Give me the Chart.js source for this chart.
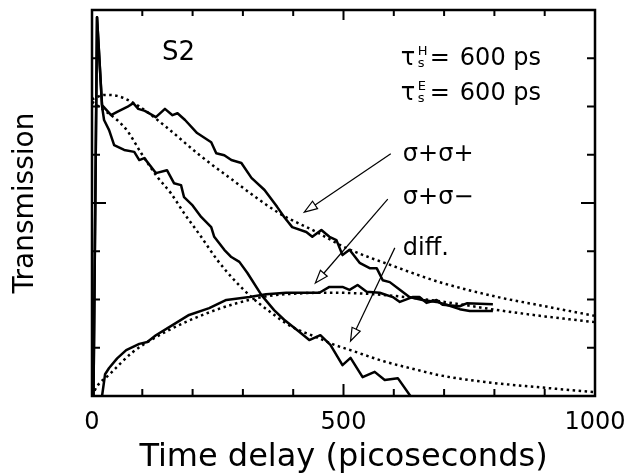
<!DOCTYPE html>
<html>
<head>
<meta charset="utf-8">
<title>S2 transmission</title>
<script src="https://cdn.jsdelivr.net/npm/chart.js@4/dist/chart.umd.min.js"></script>
<style>
  html, body { margin: 0; padding: 0; background: #fff; }
  canvas { display: block; }
</style>
</head>
<body>
<canvas id="chart" width="638" height="475"></canvas>
<script>
// measured curves (solid)
const ppTime = [3, 10, 20, 38, 50, 70, 82, 92, 105, 127, 145, 160, 170, 185, 209, 237, 247, 263, 277, 297, 317, 343, 368, 382, 398, 426, 438, 456, 472, 486, 498, 512, 532, 552, 566, 578, 592, 612, 631, 657, 685, 705, 731, 751, 797];
const ppValue = [0, 7.85, 6.03, 5.82, 5.89, 5.99, 6.07, 5.95, 5.91, 5.78, 5.95, 5.82, 5.86, 5.72, 5.45, 5.26, 5.03, 4.99, 4.89, 4.83, 4.52, 4.27, 3.92, 3.71, 3.50, 3.40, 3.30, 3.44, 3.30, 3.23, 2.92, 3.03, 2.76, 2.65, 2.65, 2.40, 2.36, 2.20, 2.05, 1.99, 1.95, 1.89, 1.80, 1.76, 1.76];

const pmTime = [3, 10, 20, 24, 34, 44, 64, 84, 94, 104, 127, 149, 163, 177, 183, 200, 217, 237, 243, 263, 277, 293, 309, 337, 362, 382, 412, 432, 454, 474, 498, 514, 538, 562, 582, 608, 633];
const pmValue = [0, 7.85, 6.0, 5.72, 5.51, 5.2, 5.1, 5.06, 4.89, 4.93, 4.62, 4.68, 4.41, 4.37, 4.12, 3.95, 3.71, 3.50, 3.30, 3.03, 2.88, 2.78, 2.55, 2.09, 1.78, 1.58, 1.33, 1.16, 1.26, 1.06, 0.64, 0.79, 0.39, 0.50, 0.33, 0.37, 0];

const diffTime = [20, 26, 34, 50, 68, 94, 110, 127, 160, 193, 233, 267, 313, 346, 386, 452, 472, 498, 512, 528, 546, 572, 598, 612, 637, 651, 665, 685, 697, 731, 745, 797];
const diffValue = [0, 0.45, 0.58, 0.78, 0.95, 1.08, 1.12, 1.26, 1.47, 1.68, 1.82, 1.99, 2.05, 2.11, 2.14, 2.14, 2.26, 2.26, 2.20, 2.30, 2.16, 2.14, 2.05, 1.95, 2.05, 2.05, 1.93, 1.99, 1.89, 1.86, 1.92, 1.90];

// fits (dotted)
const ppFitTime = [0, 25, 50, 94, 147, 213, 279, 372, 446, 505, 600, 691, 807, 890, 1000];
const ppFitValue = [6.15, 6.24, 6.22, 6.0, 5.58, 5.0, 4.48, 3.79, 3.40, 3.07, 2.69, 2.36, 2.05, 1.88, 1.66];

const pmFitTime = [0, 20, 50, 70, 98, 130, 157, 183, 217, 249, 283, 317, 357, 398, 446, 482, 514, 580, 647, 691, 781, 890, 1000];
const pmFitValue = [6.1, 5.95, 5.72, 5.5, 5.03, 4.54, 4.2, 3.79, 3.30, 2.82, 2.40, 2.05, 1.72, 1.43, 1.22, 1.06, 0.95, 0.72, 0.54, 0.43, 0.29, 0.18, 0.08];

const diffFitTime = [0, 10, 35, 80, 150, 225, 290, 350, 420, 480, 560, 640, 720, 800, 900, 1000];
const diffFitValue = [0, 0.2, 0.45, 0.9, 1.35, 1.7, 1.93, 2.07, 2.13, 2.14, 2.11, 2.03, 1.92, 1.79, 1.65, 1.53];

// axes
const xTickValues = [100, 200, 300, 400, 500, 600, 700, 800, 900];
const xLabelValues = [0, 500, 1000];
const yTickValues = [1, 2, 3, 4, 5, 6, 7];

const FONT = 'DejaVu Sans';

// text and arrows, in data units
const notes = [
  { text: 'S2', t: 139, v: 6.96, size: 26 },
  { text: 'σ+σ+', t: 618, v: 4.87, size: 24 },
  { text: 'σ+σ−', t: 618, v: 3.98, size: 24 },
  { text: 'diff.', t: 618, v: 2.92, size: 24 }
];
const tauLines = [
  { sup: 'H', t: 614, v: 6.86 },
  { sup: 'E', t: 614, v: 6.13 }
];
const arrows = [
  [594, 5.02, 422, 3.81],
  [588, 4.08, 444, 2.34],
  [602, 3.07, 514, 1.14]
];

const toPts = (ts, vs) => ts.map((t, i) => ({ x: t, y: vs[i] }));

function solid(ts, vs) {
  return { data: toPts(ts, vs), borderColor: '#000', borderWidth: 2.5, pointRadius: 0, tension: 0, borderJoinStyle: 'round' };
}
function dotted(ts, vs) {
  return { data: toPts(ts, vs), borderColor: '#000', borderWidth: 2.5, pointRadius: 0, cubicInterpolationMode: 'monotone', borderDash: [2.5, 3.5] };
}

function drawArrow(ctx, x1, y1, x2, y2) {
  const ang = Math.atan2(y2 - y1, x2 - x1);
  const len = 13, half = 4.5;
  const bx = x2 - len * Math.cos(ang), by = y2 - len * Math.sin(ang);
  ctx.beginPath();
  ctx.moveTo(x1, y1);
  ctx.lineTo(bx, by);
  ctx.stroke();
  ctx.beginPath();
  ctx.moveTo(x2, y2);
  ctx.lineTo(bx + half * Math.sin(ang), by - half * Math.cos(ang));
  ctx.lineTo(bx - half * Math.sin(ang), by + half * Math.cos(ang));
  ctx.closePath();
  ctx.fillStyle = '#fff';
  ctx.fill();
  ctx.stroke();
}

const frameAndNotes = {
  id: 'frameAndNotes',
  afterDatasetsDraw(chart) {
    const { ctx, chartArea: a, scales: { x, y } } = chart;
    ctx.save();
    ctx.strokeStyle = '#000';
    ctx.lineWidth = 2;

    // inward ticks
    xTickValues.forEach(t => {
      const px = x.getPixelForValue(t);
      const big = t === 500;
      ctx.beginPath();
      ctx.moveTo(px, a.bottom);
      ctx.lineTo(px, a.bottom - (big ? 12 : 7));
      ctx.moveTo(px, a.top);
      ctx.lineTo(px, a.top + (big ? 10 : 6));
      ctx.stroke();
    });
    yTickValues.forEach(v => {
      const py = y.getPixelForValue(v);
      const big = v === 4;
      ctx.beginPath();
      ctx.moveTo(a.left, py);
      ctx.lineTo(a.left + (big ? 14 : 8), py);
      ctx.moveTo(a.right, py);
      ctx.lineTo(a.right - (big ? 14 : 8), py);
      ctx.stroke();
    });

    ctx.lineWidth = 2.5;
    ctx.strokeRect(a.left, a.top, a.right - a.left, a.bottom - a.top);

    // labels
    ctx.fillStyle = '#000';
    ctx.textBaseline = 'alphabetic';
    ctx.textAlign = 'left';
    notes.forEach(n => {
      ctx.font = n.size + 'px "' + FONT + '"';
      ctx.fillText(n.text, x.getPixelForValue(n.t), y.getPixelForValue(n.v));
    });

    tauLines.forEach(l => {
      const px = x.getPixelForValue(l.t);
      const py = y.getPixelForValue(l.v);
      ctx.font = '24px "' + FONT + '"';
      ctx.fillText('τ', px, py);
      ctx.font = '13px "' + FONT + '"';
      ctx.fillText(l.sup, px + 17, py - 10);
      ctx.fillText('s', px + 17, py + 2);
      ctx.font = '24px "' + FONT + '"';
      ctx.fillText('=', px + 29, py);
      ctx.fillText('600 ps', px + 59, py);
    });

    ctx.lineWidth = 1.2;
    arrows.forEach(([t1, v1, t2, v2]) => {
      drawArrow(ctx, x.getPixelForValue(t1), y.getPixelForValue(v1), x.getPixelForValue(t2), y.getPixelForValue(v2));
    });
    ctx.restore();
  }
};

new Chart(document.getElementById('chart'), {
  type: 'line',
  data: {
    datasets: [
      solid(ppTime, ppValue),
      solid(pmTime, pmValue),
      solid(diffTime, diffValue),
      dotted(ppFitTime, ppFitValue),
      dotted(pmFitTime, pmFitValue),
      dotted(diffFitTime, diffFitValue)
    ]
  },
  options: {
    responsive: false,
    animation: false,
    layout: { padding: { top: 10, right: 43, left: 0, bottom: 0 } },
    plugins: { legend: { display: false }, tooltip: { enabled: false } },
    scales: {
      x: {
        type: 'linear',
        min: 0,
        max: 1000,
        grid: { display: false, drawTicks: false },
        border: { display: false },
        ticks: {
          stepSize: 100,
          padding: 12,
          autoSkip: false,
          maxRotation: 0,
          color: '#000',
          font: { family: FONT, size: 24 },
          callback: v => xLabelValues.includes(v) ? String(v) : ''
        },
        title: { display: true, text: 'Time delay (picoseconds)', color: '#000', font: { family: FONT, size: 32 }, padding: { top: 0, bottom: -2 } },
        afterFit: s => { s.height = 79; }
      },
      y: {
        type: 'linear',
        min: 0,
        max: 8,
        grid: { display: false, drawTicks: false },
        border: { display: false },
        ticks: { display: false, stepSize: 1 },
        title: { display: true, text: 'Transmission', color: '#000', font: { family: FONT, size: 28 }, padding: { top: 9, bottom: 0 } },
        afterFit: s => { s.width = 92; }
      }
    }
  },
  plugins: [frameAndNotes]
});
</script>
</body>
</html>
